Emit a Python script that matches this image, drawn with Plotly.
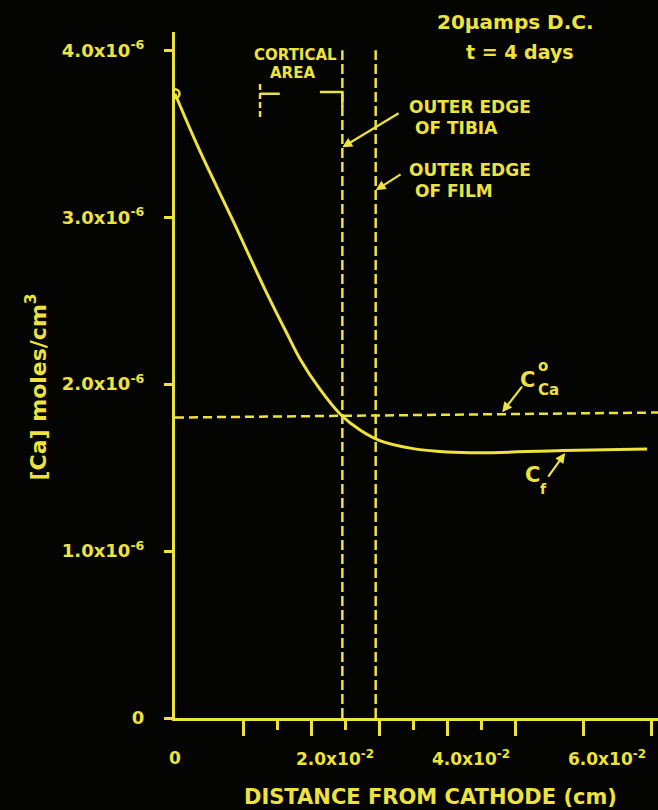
import plotly.graph_objects as go

# ---------------- data ----------------
dist_cm = [0.0, 0.0034, 0.0084, 0.0132, 0.0165, 0.0184, 0.0213, 0.0243, 0.0272,
           0.0301, 0.0350, 0.0400, 0.0449, 0.0571, 0.0694]
ca_conc = [3.74e-6, 3.42e-6, 2.99e-6, 2.57e-6, 2.30e-6, 2.15e-6, 1.97e-6, 1.82e-6,
           1.725e-6, 1.662e-6, 1.614e-6, 1.594e-6, 1.589e-6, 1.603e-6, 1.611e-6]
c0_x = [0.0, 0.0710]
c0_y = [1.80e-6, 1.83e-6]
tibia_x = 0.0246
film_x = 0.0295
edge_top = 4.0e-6

y_tickvals = [0, 1e-6, 2e-6, 3e-6, 4e-6]
y_ticktext = ["0", "1.0x10<sup>-6</sup>", "2.0x10<sup>-6</sup>",
              "3.0x10<sup>-6</sup>", "4.0x10<sup>-6</sup>"]
x_major = [0.01, 0.02, 0.03, 0.04, 0.05, 0.06, 0.07]
x_minor = [0.015, 0.025, 0.035, 0.045]
x_labvals = [0.0, 0.02, 0.04, 0.06]
x_labtext = ["0", "2.0x10<sup>-2</sup>", "4.0x10<sup>-2</sup>", "6.0x10<sup>-2</sup>"]

YEL = "#ede23e"
BG = "#040403"
FONT = "DejaVu Sans"

fig = go.Figure()

# concentration curve
fig.add_trace(go.Scatter(x=dist_cm, y=ca_conc, mode="lines",
                         line=dict(color=YEL, width=3, shape="spline", smoothing=1.0),
                         hoverinfo="skip"))
fig.add_trace(go.Scatter(x=dist_cm[:1], y=ca_conc[:1], mode="markers",
                         marker=dict(symbol="circle-open", size=9, color=YEL,
                                     line=dict(width=2.5, color=YEL)),
                         hoverinfo="skip"))
# C_Ca^0 dashed
fig.add_trace(go.Scatter(x=c0_x, y=c0_y, mode="lines",
                         line=dict(color=YEL, width=2.5, dash="9px,5px"), hoverinfo="skip"))
# tibia and film edges
for xv in (tibia_x, film_x):
    fig.add_trace(go.Scatter(x=[xv, xv], y=[0, edge_top], mode="lines",
                             line=dict(color=YEL, width=2.5, dash="10px,4px"),
                             hoverinfo="skip"))
# cortical area brackets
fig.add_trace(go.Scatter(x=[0.0125, 0.0125], y=[3.60e-6, 3.80e-6], mode="lines",
                         line=dict(color=YEL, width=2.5, dash="6px,3px"), hoverinfo="skip"))
fig.add_trace(go.Scatter(x=[0.0125, 0.0154], y=[3.74e-6, 3.74e-6], mode="lines",
                         line=dict(color=YEL, width=2.5), hoverinfo="skip"))
fig.add_trace(go.Scatter(x=[0.0213, tibia_x, tibia_x], y=[3.75e-6, 3.75e-6, 3.66e-6],
                         mode="lines", line=dict(color=YEL, width=2.5), hoverinfo="skip"))

ann = []
def txt(x, y, t, size, xanchor="center", xref="x", yref="y", **kw):
    d = dict(x=x, y=y, text=t, xref=xref, yref=yref, showarrow=False,
             xanchor=xanchor, yanchor="middle",
             font=dict(family=FONT, size=size, color=YEL, weight="bold"))
    d.update(kw)
    ann.append(d)

def leader(x0, y0, x1, y1):
    ann.append(dict(x=x1, y=y1, ax=x0, ay=y0, xref="x", yref="y", axref="x", ayref="y",
                    text="", showarrow=True, arrowhead=2, arrowsize=0.9,
                    arrowwidth=2.2, arrowcolor=YEL, standoff=0))

txt(0.0500, 1.0146, "20µamps D.C.", 20, yref="paper")
txt(0.0507, 3.988e-6, "t = 4 days", 19)
txt(0.01765, 3.970e-6, "CORTICAL", 15)
txt(0.01721, 3.862e-6, "AREA", 15)
txt(0.03412, 3.659e-6, "OUTER EDGE", 17, xanchor="left")
txt(0.0350, 3.533e-6, "OF TIBIA", 17, xanchor="left")
txt(0.03412, 3.281e-6, "OUTER EDGE", 17, xanchor="left")
txt(0.0350, 3.156e-6, "OF FILM", 17, xanchor="left")
txt(0.05176, 2.024e-6, "C", 21)
txt(0.05412, 2.110e-6, "o", 15)
txt(0.05485, 1.965e-6, "Ca", 15)
txt(0.0525, 1.455e-6, "C", 21)
txt(0.05412, 1.371e-6, "f", 14)

leader(0.03309, 3.629e-6, tibia_x, 3.419e-6)
leader(0.03338, 3.263e-6, film_x, 3.162e-6)
leader(0.05118, 1.994e-6, 0.04809, 1.832e-6)
leader(0.05471, 1.437e-6, 0.05735, 1.587e-6)

# x tick labels
for xv, t in zip(x_labvals, x_labtext):
    if xv == 0:
        txt(xv, 0, t, 17, yshift=-40)
    else:
        txt(xv, 0, t, 17, xanchor="left", xshift=-17, yshift=-40)

# axis titles
txt(0.53, 0, "DISTANCE FROM CATHODE (cm)", 21, xref="paper", yref="paper", yshift=-79)
txt(0, 1.98e-6, "[Ca] moles/cm<sup>3</sup>", 22, xref="paper", xshift=-139, textangle=-90)

fig.update_layout(
    width=658, height=810,
    margin=dict(l=175, r=0, t=32, b=92),
    paper_bgcolor=BG, plot_bgcolor=BG,
    showlegend=False,
    annotations=ann,
    font=dict(family=FONT, color=YEL, weight="bold"),
    xaxis=dict(range=[0, 0.0710], showgrid=False, zeroline=False,
               showline=True, linecolor=YEL, linewidth=3,
               ticks="outside", tickvals=x_major, ticklen=15, tickwidth=2.5,
               tickcolor=YEL, showticklabels=False,
               minor=dict(tickvals=x_minor, ticks="outside", ticklen=9,
                          tickwidth=2.5, tickcolor=YEL, showgrid=False)),
    yaxis=dict(range=[0, 4.11e-6], showgrid=False, zeroline=False,
               showline=True, linecolor=YEL, linewidth=3,
               ticks="outside", tickvals=y_tickvals, ticktext=y_ticktext,
               ticklen=8, tickwidth=2.5, tickcolor=YEL,
               tickfont=dict(family=FONT, size=18, color=YEL, weight="bold"),
               ticklabelstandoff=16),
)

fig.write_html("out.html", config={"displayModeBar": False},
               post_script="document.body.style.margin='0';document.body.style.background='#040403';")
